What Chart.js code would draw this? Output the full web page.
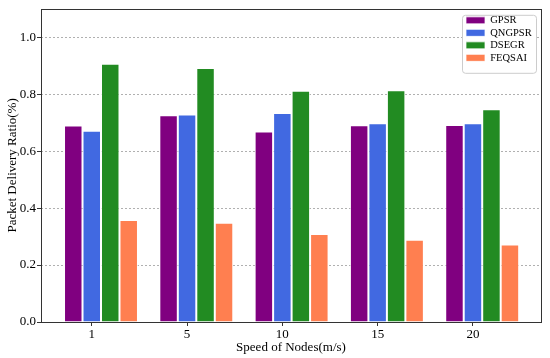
<!DOCTYPE html>
<html><head><meta charset="utf-8">
<script src="https://cdn.jsdelivr.net/npm/chart.js@4"></script>
<style>html,body{margin:0;padding:0;background:#fff}</style>
</head><body>
<canvas id="c" width="550" height="358"></canvas>
<script>
const categories = ['1', '5', '10', '15', '20'];
const seriesNames = ['GPSR', 'QNGPSR', 'DSEGR', 'FEQSAI'];
const gpsr   = [0.690, 0.726, 0.669, 0.691, 0.692];
const qngpsr = [0.672, 0.729, 0.734, 0.698, 0.698];
const dsegr  = [0.907, 0.892, 0.812, 0.814, 0.747];
const feqsai = [0.358, 0.349, 0.309, 0.289, 0.272];
const yTickLabels = ['0.0', '0.2', '0.4', '0.6', '0.8', '1.0'];

const colors = ['#800080', '#4169E1', '#228B22', '#FF7F50'];
const series = [gpsr, qngpsr, dsegr, feqsai];
const FONT = "'Liberation Serif', 'Times New Roman', serif";
const tickShift = -0.097; // tick sits on the centre of the 2nd bar of each group

const framePlugin = {
  id: 'frame',
  afterLayout(chart) {
    const lg = chart.legend, ca = chart.chartArea;
    const w = lg.width, h = lg.height;
    lg.left = ca.right - 77; lg.right = lg.left + w;
    lg.top = ca.top + 4.3; lg.bottom = lg.top + h;
  },
  afterDraw(chart) {
    const ctx = chart.ctx, ca = chart.chartArea;
    // legend frame
    const x = ca.right - 79, y = ca.top + 6, w = 74, h = 58, r = 3;
    ctx.save();
    ctx.beginPath();
    ctx.roundRect(x + 0.5, y + 0.5, w, h, r);
    ctx.fillStyle = '#ffffff';
    ctx.fill();
    ctx.strokeStyle = '#cccccc';
    ctx.lineWidth = 1;
    ctx.stroke();
    ctx.restore();
    chart.legend.draw();
    // plot frame
    ctx.save();
    ctx.strokeStyle = '#333333';
    ctx.lineWidth = 1;
    ctx.strokeRect(Math.round(ca.left) + 0.5, Math.round(ca.top) + 0.5,
      Math.round(ca.right - ca.left), Math.round(ca.bottom - ca.top));
    ctx.restore();
  }
};

new Chart(document.getElementById('c'), {
  type: 'bar',
  data: {
    datasets: series.map((vals, k) => ({
      label: seriesNames[k],
      data: vals.map((v, i) => ({ x: i, y: v })),
      backgroundColor: colors[k],
      borderColor: 'rgba(255,255,255,0.75)',
      borderWidth: 1,
      borderSkipped: 'bottom'
    }))
  },
  options: {
    responsive: false,
    animation: false,
    events: [],
    layout: { padding: { top: 2, right: 9, left: 0, bottom: 0 } },
    datasets: { bar: { categoryPercentage: 0.776, barPercentage: 1.0 } },
    plugins: {
      tooltip: { enabled: false },
      legend: {
        position: 'chartArea',
        align: 'start',
        labels: {
          boxWidth: 19, boxHeight: 7, padding: 2,
          color: '#000',
          font: { family: FONT, size: 10.5 }
        }
      }
    },
    scales: {
      x: {
        type: 'linear',
        offset: false,
        min: -0.6296, max: 4.617,
        afterBuildTicks: s => { s.ticks = categories.map((c, i) => ({ value: i + tickShift })); },
        afterFit: s => { s.height = 36; },
        ticks: {
          callback: (v, i) => categories[i],
          color: '#000', padding: 1, maxRotation: 0, autoSkip: false,
          font: { family: FONT, size: 13 }
        },
        grid: { offset: false, drawOnChartArea: false, drawTicks: true, tickLength: 4, tickColor: '#333', tickWidth: 1 },
        border: { display: false },
        title: { display: true, text: 'Speed of Nodes(m/s)', color: '#000', padding: { top: 0, bottom: 3 }, font: { family: FONT, size: 13 } }
      },
      y: {
        min: 0, max: 1.1,
        afterFit: s => { s.width = 41; },
        ticks: {
          stepSize: 0.2, includeBounds: false,
          callback: (v, i) => yTickLabels[i],
          color: '#000', padding: 1,
          font: { family: FONT, size: 13 }
        },
        grid: { color: '#b0b0b0', lineWidth: 1, tickLength: 4, tickColor: '#333', tickWidth: 1, tickBorderDash: [] },
        border: { display: false, dash: [2, 2] },
        title: { display: true, text: 'Packet Delivery Ratio(%)', color: '#000', padding: { top: 5, bottom: 2 }, font: { family: FONT, size: 13 } }
      }
    }
  },
  plugins: [framePlugin]
});
</script>
</body></html>
